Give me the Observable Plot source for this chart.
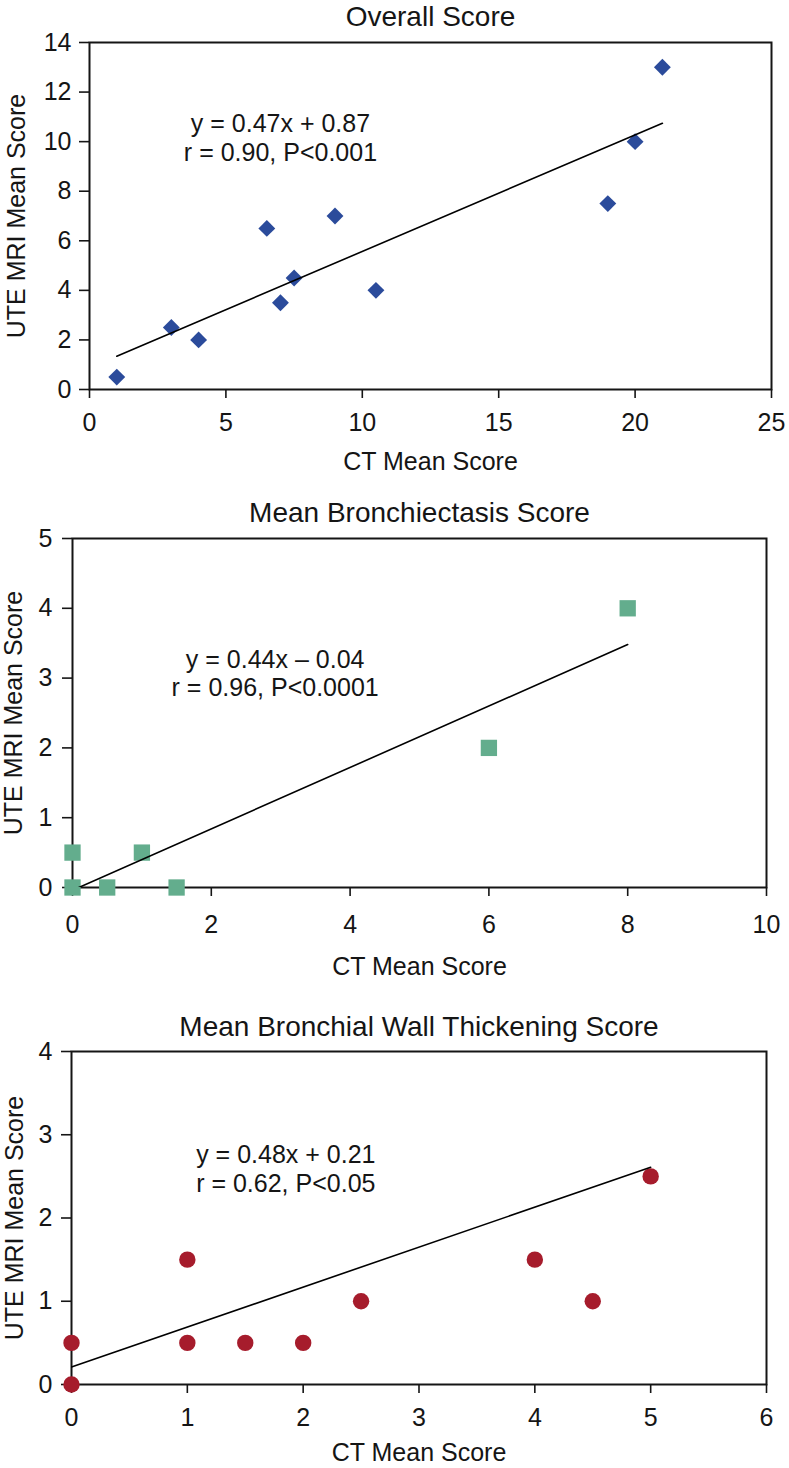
<!DOCTYPE html>
<html><head><meta charset="utf-8">
<script src="https://cdn.jsdelivr.net/npm/d3@7"></script>
<script src="https://cdn.jsdelivr.net/npm/@observablehq/plot@0.6"></script>
<style>
html,body{margin:0;padding:0;background:#fff;}
#chart{width:789px;}
#chart svg{display:block;}
</style></head><body><div id="chart"></div>
<script>
// ---- Data ----
const xAxisLabel = "CT Mean Score";
const yAxisLabel = "UTE MRI Mean Score";

const overallTitle = "Overall Score";
const overallCT  = [1, 3, 4, 6.5, 7, 7.5, 9, 10.5, 19, 20, 21];
const overallMRI = [0.5, 2.5, 2, 6.5, 3.5, 4.5, 7, 4, 7.5, 10, 13];
const overallFitX = [1, 21];
const overallFitY = [1.34, 10.74];
const overallEq = "y = 0.47x + 0.87\nr = 0.90, P<0.001";
const overallXTicks = [0, 5, 10, 15, 20, 25];
const overallYTicks = [0, 2, 4, 6, 8, 10, 12, 14];

const bronchTitle = "Mean Bronchiectasis Score";
const bronchCT  = [0, 0, 0.5, 1, 1.5, 6, 8];
const bronchMRI = [0.5, 0, 0, 0.5, 0, 2, 4];
const bronchFitX = [0, 8];
const bronchFitY = [-0.04, 3.48];
const bronchEq = "y = 0.44x \u2013 0.04\nr = 0.96, P<0.0001";
const bronchXTicks = [0, 2, 4, 6, 8, 10];
const bronchYTicks = [0, 1, 2, 3, 4, 5];

const wallTitle = "Mean Bronchial Wall Thickening Score";
const wallCT  = [0, 0, 1, 1, 1.5, 2, 2.5, 4, 4.5, 5];
const wallMRI = [0.5, 0, 1.5, 0.5, 0.5, 0.5, 1, 1.5, 1, 2.5];
const wallFitX = [0, 5];
const wallFitY = [0.21, 2.61];
const wallEq = "y = 0.48x + 0.21\nr = 0.62, P<0.05";
const wallXTicks = [0, 1, 2, 3, 4, 5, 6];
const wallYTicks = [0, 1, 2, 3, 4];

// ---- Drawing ----
const FONT = "'Liberation Sans', Arial, Helvetica, sans-serif";
const INK = "#151515";

function panel(c) {
  const pts = c.xs.map((x, i) => ({x, y: c.ys[i]}));
  const fit = c.fitX.map((x, i) => ({x, y: c.fitY[i]}));
  return Plot.plot({
    width: 789, height: c.height,
    marginTop: c.m[0], marginRight: c.m[1], marginBottom: c.m[2], marginLeft: c.m[3],
    style: {fontFamily: FONT, fontSize: "25px", color: INK, background: "#fff", overflow: "visible"},
    x: {domain: [c.xTicks[0], c.xTicks[c.xTicks.length - 1]]},
    y: {domain: [c.yTicks[0], c.yTicks[c.yTicks.length - 1]]},
    marks: [
      Plot.frame({stroke: INK, strokeWidth: 2}),
      Plot.axisX({ticks: c.xTicks, tickSize: 9, tickPadding: c.xTickPad, fontSize: 25, label: null, strokeWidth: 1.6, tickFormat: d => String(d)}),
      Plot.axisY({ticks: c.yTicks, tickSize: 10, tickPadding: c.yTickPad, fontSize: 25, label: null, strokeWidth: 1.6, tickFormat: d => String(d)}),
      Plot.dot(pts, {x: "x", y: "y", symbol: c.symbol, r: c.r, fill: c.fill, stroke: "none"}),
      Plot.line(fit, {x: "x", y: "y", stroke: "#000", strokeWidth: 1.6, clip: true}),
      Plot.text([c.eq], {x: c.eqX, y: c.eqY, fontSize: 25, lineHeight: 1.13, lineAnchor: "middle", textAnchor: "middle", fill: INK}),
      Plot.text([c.title], {frameAnchor: "top", dy: c.titleDy, fontSize: 28, lineAnchor: "middle", textAnchor: "middle", fill: INK}),
      Plot.text([xAxisLabel], {frameAnchor: "bottom", dy: c.xLabelDy, fontSize: 25, lineAnchor: "top", textAnchor: "middle", fill: INK}),
      Plot.text([yAxisLabel], {frameAnchor: "left", dx: c.yLabelDx, rotate: -90, fontSize: 25, lineAnchor: "middle", textAnchor: "middle", fill: INK})
    ]
  });
}

const root = document.getElementById("chart");
root.append(panel({
  title: overallTitle, xs: overallCT, ys: overallMRI, fitX: overallFitX, fitY: overallFitY,
  eq: overallEq, eqX: 7.0, eqY: 10.17, xTicks: overallXTicks, yTicks: overallYTicks,
  symbol: "diamond2", r: 7.6, fill: "#2b4b9b",
  height: 488, m: [42, 18, 99, 89], xTickPad: 15, yTickPad: 8, xLabelDy: 63, yLabelDx: -72.3, titleDy: -25
}));
root.append(panel({
  title: bronchTitle, xs: bronchCT, ys: bronchMRI, fitX: bronchFitX, fitY: bronchFitY,
  eq: bronchEq, eqX: 2.92, eqY: 3.076, xTicks: bronchXTicks, yTicks: bronchYTicks,
  symbol: "square", r: 9.2, fill: "#63ad8d",
  height: 512, m: [50, 23, 113, 72], xTickPad: 19, yTickPad: 10, xLabelDy: 70, yLabelDx: -58.5, titleDy: -25
}));
root.append(panel({
  title: wallTitle, xs: wallCT, ys: wallMRI, fitX: wallFitX, fitY: wallFitY,
  eq: wallEq, eqX: 1.85, eqY: 2.595, xTicks: wallXTicks, yTicks: wallYTicks,
  symbol: "circle", r: 8.2, fill: "#a61c2c",
  height: 468, m: [51, 23, 84, 71], xTickPad: 15, yTickPad: 9, xLabelDy: 59, yLabelDx: -56.5, titleDy: -24.7
}));
</script>
</body></html>
